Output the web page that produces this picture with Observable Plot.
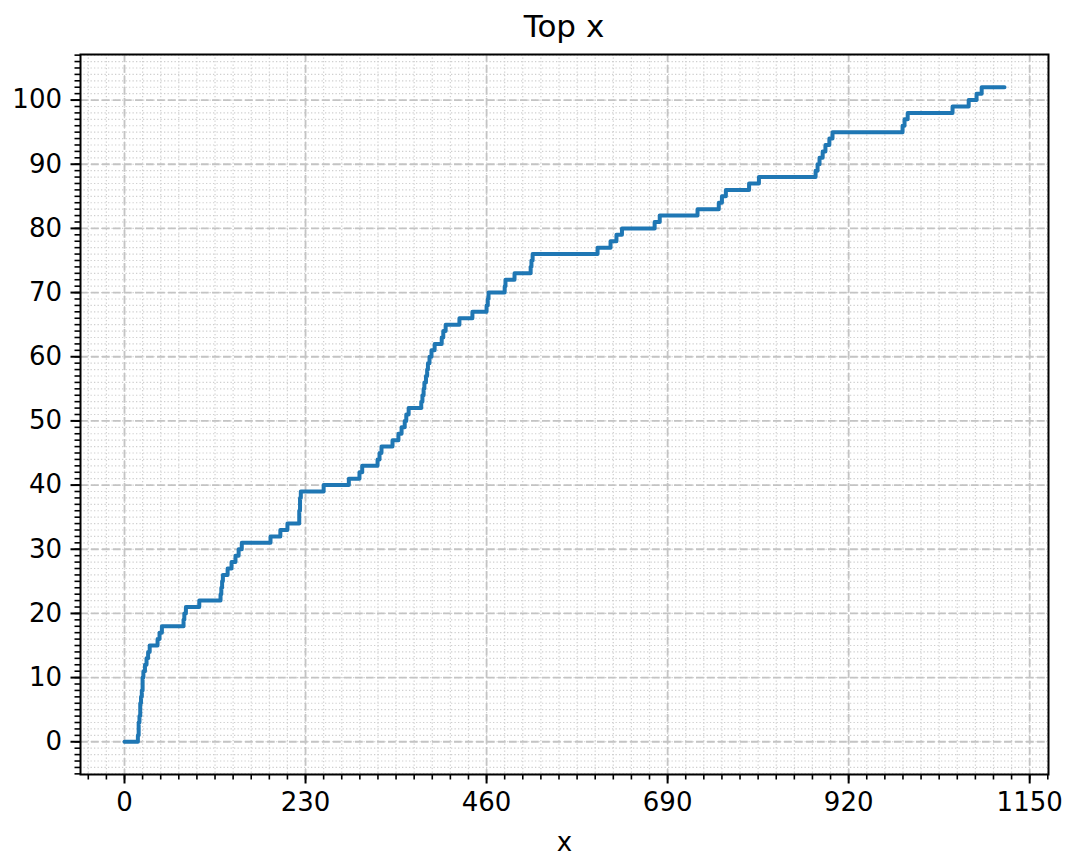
<!DOCTYPE html>
<html><head><meta charset="utf-8">
<script src="https://cdn.jsdelivr.net/npm/d3@7"></script>
<script src="https://cdn.jsdelivr.net/npm/@observablehq/plot@0.6"></script>
<style>
body{margin:0;background:#fff;font-family:"DejaVu Sans",sans-serif;}
#title{height:48px;box-sizing:border-box;padding:6px 22px 0 80px;text-align:center;font-size:31px;line-height:40px;color:#000;}
</style></head><body>
<div id="title">Top x</div>
<div id="chart"></div>
<script>
// x position where the cumulative count jumps, and the new count
const stepX = [0, 17,18,19,20,21,22,23,24,26,28,30,32, 42,44.5,47.5, 75,76,78, 95, 122,123,124,125,
  131,136,141,145,149, 185.5,198,207, 222,222,223,223,224, 253, 285, 298.5,302, 321.5,324,326.5, 340.5,
  348,352,356,358,361, 377,378.5,380,381,383,384.5,385.5,387.5,390,394, 403,405,408, 425.5, 442,
  460,461.5,462.5, 483,484, 495.5, 516,517,518.5, 601, 617.5,625,632, 673.5,680, 728, 755,759,764,
  793.5, 806, 878,880.5,883,887,890.5,895.5,899.5, 988.5,991,995, 1052, 1072.5,1082.5,1089, 1118];
const stepY = [0, 1,3,4,6,7,8,10,11,12,13,14,15, 16,17,18, 19,20,21, 22, 23,24,25,26,
  27,28,29,30,31, 32,33,34, 35,36,37,38,39, 40, 41, 42,43, 44,45,46, 47,
  48,49,50,51,52, 53,54,55,56,57,58,59,60,61,62, 63,64,65, 66, 67,
  68,69,70, 71,72, 73, 74,75,76, 77, 78,79,80, 81,82, 83, 84,85,86,
  87, 88, 89,90,91,92,93,94,95, 96,97,98, 99, 100,101,102, 102];
const xTicks = [0, 230, 460, 690, 920, 1150];
const yTicks = [0, 10, 20, 30, 40, 50, 60, 70, 80, 90, 100];
const xMinorTicks = d3.range(-46, 1174, 23);
const yMinorTicks = d3.range(-5, 108, 1);

const data = stepX.map((x, i) => ({x, y: stepY[i]}));

const chart = Plot.plot({
  width: 1070, height: 809,
  marginTop: 6, marginRight: 22, marginBottom: 83, marginLeft: 80,
  style: {fontFamily: "DejaVu Sans, sans-serif", fontSize: "26px", color: "#000", background: "#fff"},
  x: {domain: [-55.9, 1173.9]},
  y: {domain: [-5.1, 107.1]},
  marks: [
    Plot.gridX({ticks: xMinorTicks, stroke: "#cfcfcf", strokeOpacity: 1, strokeWidth: 1.2, strokeDasharray: "1.3,2.2"}),
    Plot.gridY({ticks: yMinorTicks, stroke: "#cfcfcf", strokeOpacity: 1, strokeWidth: 1.2, strokeDasharray: "1.3,2.2"}),
    Plot.gridX({ticks: xTicks, stroke: "#c4c4c4", strokeOpacity: 1, strokeWidth: 1.8, strokeDasharray: "7.7,3.3"}),
    Plot.gridY({ticks: yTicks, stroke: "#c4c4c4", strokeOpacity: 1, strokeWidth: 1.8, strokeDasharray: "7.7,3.3"}),
    Plot.line(data, {x: "x", y: "y", curve: "step-after", stroke: "#1f77b4", strokeWidth: 4, strokeLinejoin: "round"}),
    Plot.frame({stroke: "#000", strokeWidth: 2}),
    Plot.axisX({ticks: xMinorTicks, tickSize: 5.5, text: null, strokeWidth: 1.6, label: null}),
    Plot.axisY({ticks: yMinorTicks, tickSize: 5.5, text: null, strokeWidth: 1.6, label: null}),
    Plot.axisX({ticks: xTicks, tickFormat: d => String(d), tickSize: 9.5, tickPadding: 9, strokeWidth: 2, fontSize: 26,
      label: "x", labelAnchor: "center", labelArrow: "none", labelOffset: 76}),
    Plot.axisY({ticks: yTicks, tickFormat: d => String(d), tickSize: 9.5, tickPadding: 9, strokeWidth: 2, fontSize: 26, label: null})
  ]
});
document.getElementById("chart").appendChild(chart);
</script>
</body></html>
